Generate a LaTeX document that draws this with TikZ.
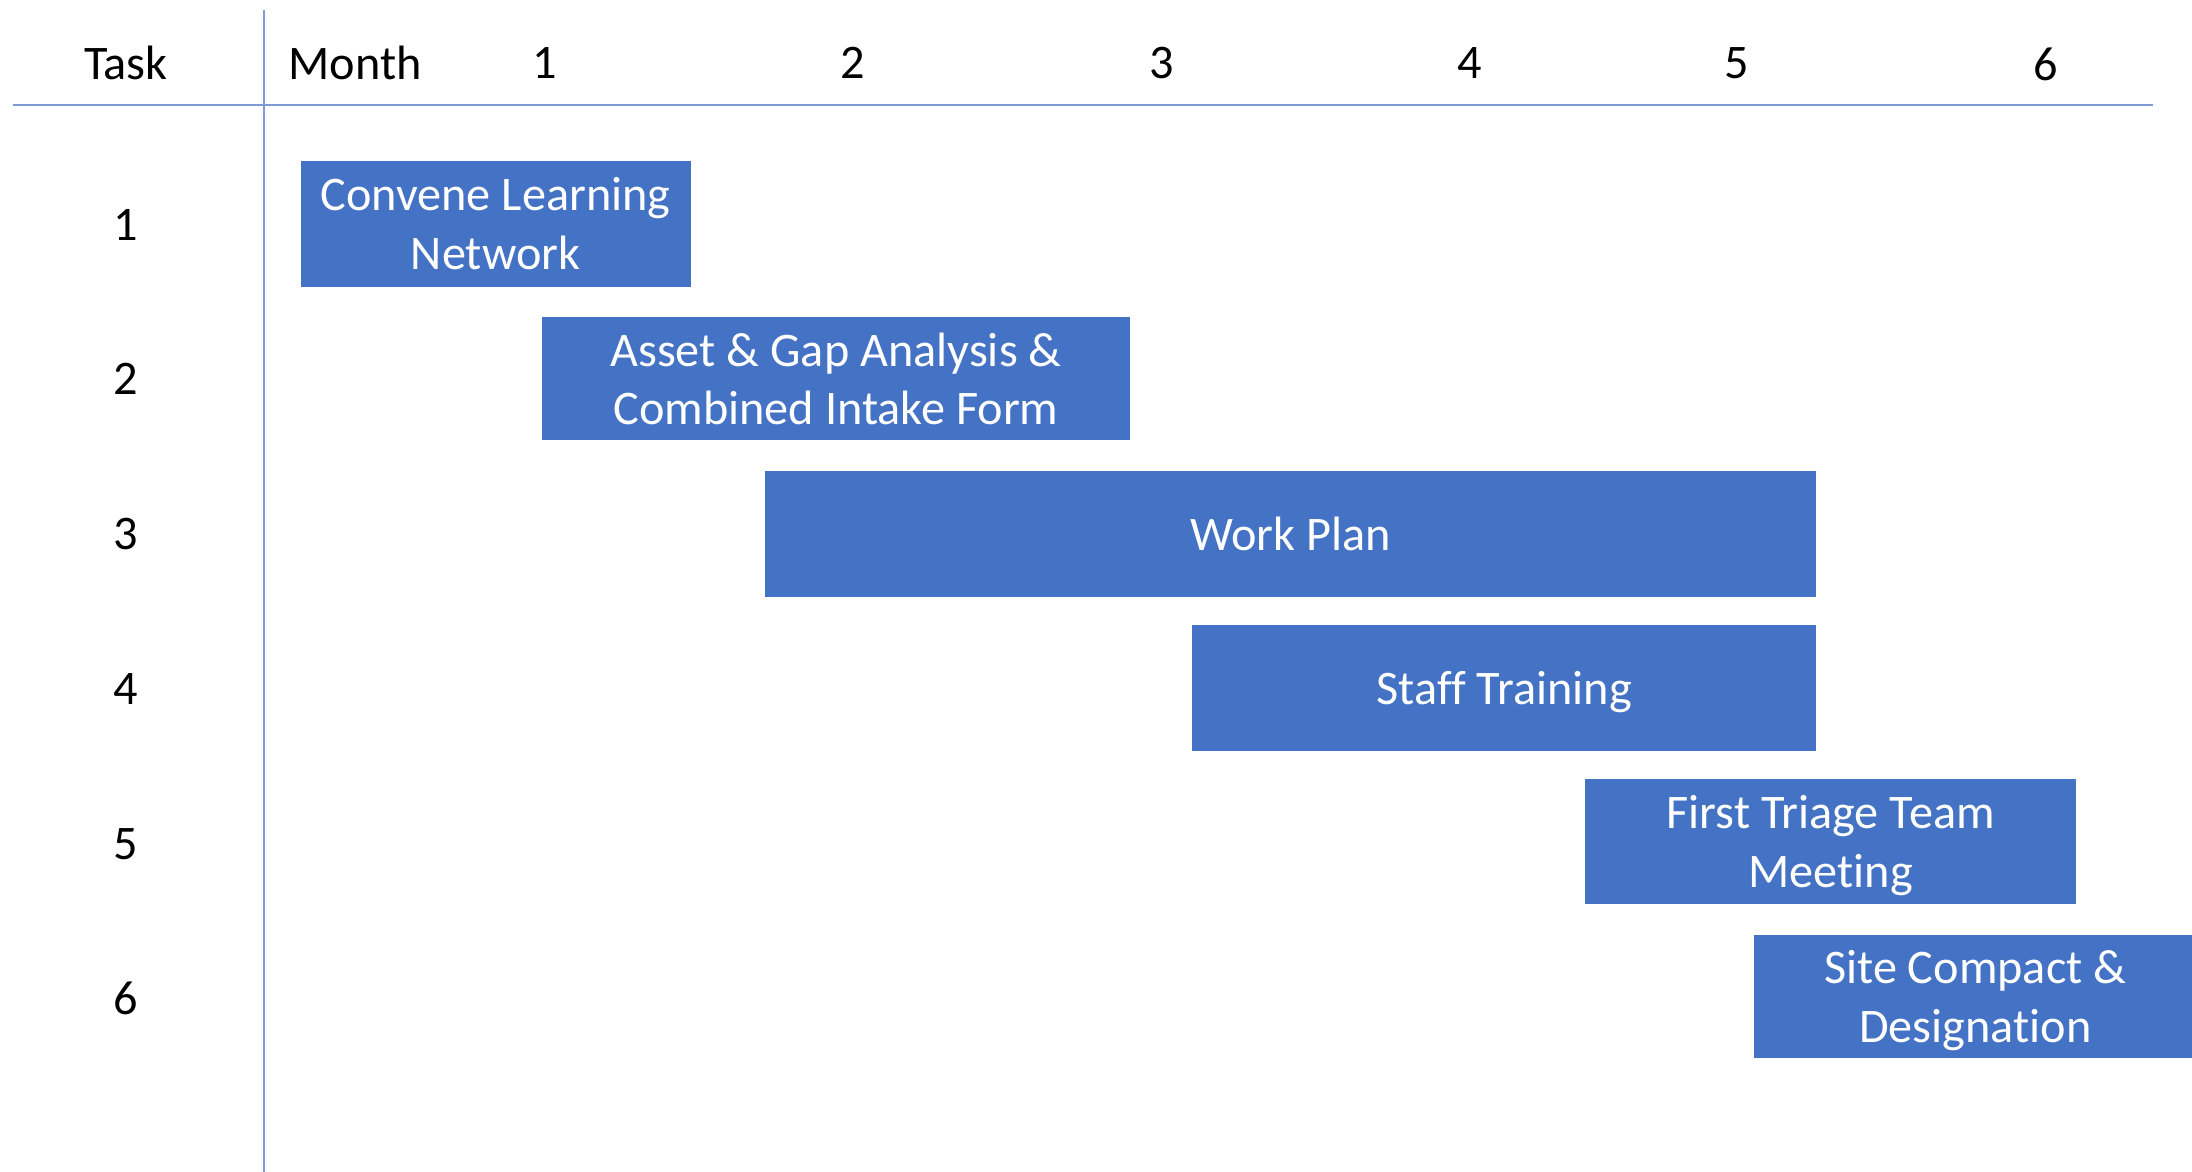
\documentclass[tikz,border=0pt]{standalone}
\usepackage{fontspec}
\setmainfont{Carlito}[Ligatures=NoCommon]
\definecolor{barblue}{HTML}{4472C4}
\definecolor{gridblue}{HTML}{7F9CD6}
\begin{document}
\begin{tikzpicture}[x=1pt,y=-1pt,
  lbl/.style={font=\fontsize{34.5}{42}\selectfont, text=black, inner sep=0pt, anchor=center},
  bar/.style={fill=barblue, draw=none, text=white, inner sep=0pt, outer sep=0pt,
    align=center, text depth=0pt, font=\fontsize{34.5}{42}\selectfont},
  grid/.style={draw=gridblue, line width=1.3pt}]
\useasboundingbox (0,0) rectangle (1568,838);

% table rules
\coordinate (vtop) at (189,7);
\coordinate (vbot) at (189,838);
\coordinate (hl) at (9,75);
\coordinate (hr) at (1540,75);
\draw[grid] (vtop) -- (vbot);
\draw[grid] (hl) -- (hr);

% column headers
\node[lbl] (hTask) at (90,45) {Task};
\node[lbl] (hMonth) at (254,45) {Month};
\node[lbl] (m1) at (390,45) {1};
\node[lbl] (m2) at (610,45) {2};
\node[lbl] (m3) at (831,45) {3};
\node[lbl] (m4) at (1051,45) {4};
\node[lbl] (m5) at (1242,45) {5};
\node[lbl] (m6) at (1463,46) {6};

% task numbers
\node[lbl] (r1) at (90,161) {1};
\node[lbl] (r2) at (90,271) {2};
\node[lbl] (r3) at (90,382) {3};
\node[lbl] (r4) at (90,493) {4};
\node[lbl] (r5) at (90,604) {5};
\node[lbl] (r6) at (90,714) {6};

% task bars
\node[bar, minimum width=279pt, minimum height=90pt] (b1) at (354.5,160)
  {Convene Learning\\Network};
\node[bar, minimum width=420pt, minimum height=88pt] (b2) at (598,271)
  {Asset \& Gap Analysis \&\\Combined Intake Form};
\node[bar, minimum width=752pt, minimum height=90pt] (b3) at (923,382)
  {Work Plan};
\node[bar, minimum width=446pt, minimum height=90pt] (b4) at (1076,492)
  {Staff Training};
\node[bar, minimum width=351pt, minimum height=90pt] (b5) at (1309.5,602)
  {First Triage Team\\Meeting};
\node[bar, minimum width=316pt, minimum height=88pt] (b6) at (1413,713)
  {Site Compact \&\\Designation};
\end{tikzpicture}
\end{document}
